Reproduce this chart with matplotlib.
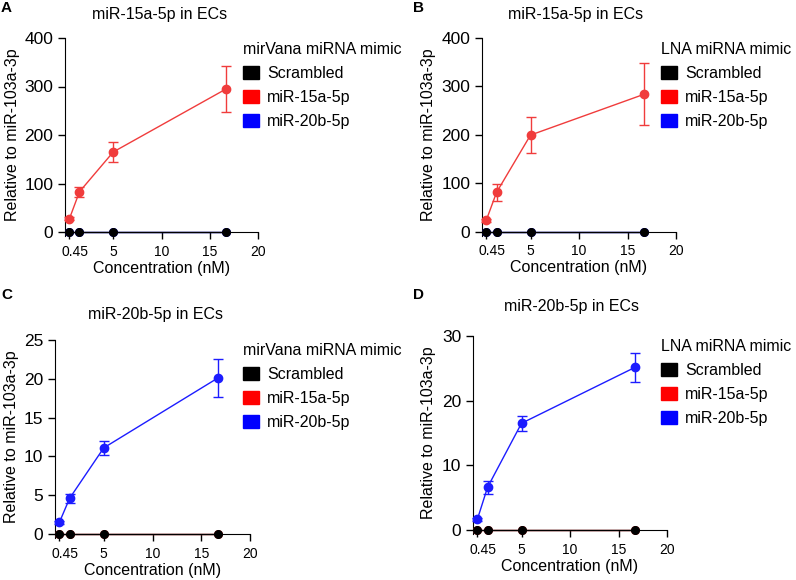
import matplotlib.pyplot as plt
from matplotlib.patches import Patch

plt.rcParams['font.family'] = ['Liberation Sans', 'DejaVu Sans']

conc = [0.45, 1.5, 5, 16.7]
series_names = ['Scrambled', 'miR-15a-5p', 'miR-20b-5p']
series_colors = ['#000000', '#f03c3c', '#1c1cff']
legend_colors = ['#000000', '#ff0000', '#0000ff']

# panel A: mirVana mimic, miR-15a-5p measured
a_scr = [0, 0, 0, 0]
a_15a = [27, 83, 165, 295]
a_15a_err = [3, 10, 21, 48]
a_20b = [0, 0, 0, 0]

# panel B: LNA mimic, miR-15a-5p measured
b_scr = [0, 0, 0, 0]
b_15a = [24, 81, 199, 283]
b_15a_err = [3, 17, 37, 64]
b_20b = [0, 0, 0, 0]

# panel C: mirVana mimic, miR-20b-5p measured
c_scr = [0, 0, 0, 0]
c_15a = [0, 0, 0, 0]
c_20b = [1.5, 4.6, 11.1, 20.1]
c_20b_err = [0.2, 0.6, 0.9, 2.4]

# panel D: LNA mimic, miR-20b-5p measured
d_scr = [0, 0, 0, 0]
d_15a = [0, 0, 0, 0]
d_20b = [1.65, 6.6, 16.5, 25.15]
d_20b_err = [0.2, 1.0, 1.2, 2.25]

W, H = 796, 580
fig = plt.figure(figsize=(W / 100, H / 100), dpi=100)


def px_axes(l, r, t, b):
    return fig.add_axes([l / W, 1 - b / H, (r - l) / W, (b - t) / H])


panels = [
    dict(letter='A', lp=(1, 8), title='miR-15a-5p in ECs', box=(65, 258, 38, 232),
         data=[a_scr, a_15a, a_20b], err=[None, a_15a_err, None], target=1,
         ymax=400, yticks=[0, 100, 200, 300, 400], ltitle='mirVana miRNA mimic',
         leg=(243, 42), tpos=(160, 14), ylab_x=13),
    dict(letter='B', lp=(413, 8), title='miR-15a-5p in ECs', box=(482, 676, 37.5, 231.7),
         data=[b_scr, b_15a, b_20b], err=[None, b_15a_err, None], target=1,
         ymax=400, yticks=[0, 100, 200, 300, 400], ltitle='LNA miRNA mimic',
         leg=(661, 42), tpos=(576, 14), ylab_x=429),
    dict(letter='C', lp=(1, 295), title='miR-20b-5p in ECs', box=(55, 250, 340, 534),
         data=[c_scr, c_15a, c_20b], err=[None, None, c_20b_err], target=2,
         ymax=25, yticks=[0, 5, 10, 15, 20, 25], ltitle='mirVana miRNA mimic',
         leg=(243, 343), tpos=(155, 315), ylab_x=12),
    dict(letter='D', lp=(413, 295), title='miR-20b-5p in ECs', box=(473, 667, 336, 530),
         data=[d_scr, d_15a, d_20b], err=[None, None, d_20b_err], target=2,
         ymax=30, yticks=[0, 10, 20, 30], ltitle='LNA miRNA mimic',
         leg=(661, 339), tpos=(572, 306), ylab_x=429),
]

for p in panels:
    l, r, t, b = p['box']
    ax = px_axes(l, r, t, b)
    # non-target series and scrambled sit on the zero line
    for i in [2, 1, 0]:
        if i == p['target']:
            continue
        ax.plot(conc, p['data'][i], color=series_colors[i], marker='o', ms=5.5,
                lw=1, clip_on=False, zorder=3 + (i == 0))
    i = p['target']
    ax.errorbar(conc, p['data'][i], yerr=p['err'][i], color=series_colors[i],
                marker='o', ms=6, lw=1, elinewidth=1, capsize=3.5, capthick=1,
                clip_on=False, zorder=5)
    ax.set_xlim(0, 20)
    ax.set_ylim(0, p['ymax'])
    ax.set_xticks([0.45, 5, 10, 15, 20])
    ax.set_xticklabels(['', '5', '10', '15', '20'], fontsize=10)
    # first label sits a bit right of its tick, as in the original
    ax.set_xticks([1.05], minor=True)
    ax.set_xticklabels(['0.45'], minor=True, fontsize=10)
    ax.tick_params(axis='x', which='minor', length=0, pad=9)
    ax.set_yticks(p['yticks'])
    ax.tick_params(axis='y', labelsize=12.5, length=5, width=1)
    ax.tick_params(axis='x', which='major', length=5, width=1, pad=4)
    ax.spines['top'].set_visible(False)
    ax.spines['right'].set_visible(False)
    ax.spines['left'].set_bounds(-p['ymax'] * 0.02, p['ymax'])
    ax.spines['bottom'].set_zorder(2)

    fig.text(p['lp'][0] / W, 1 - p['lp'][1] / H, p['letter'], fontsize=11,
             fontweight='bold', va='center', ha='left')
    fig.text(p['tpos'][0] / W, 1 - p['tpos'][1] / H, p['title'], fontsize=11.5,
             ha='center', va='center')
    fig.text(p['ylab_x'] / W, 1 - (t + b) / 2 / H, 'Relative to miR-103a-3p',
             fontsize=11.5, rotation=90, ha='center', va='center')
    fig.text((l + r) / 2 / W, 1 - (b + 36) / H, 'Concentration (nM)', fontsize=11.5,
             ha='center', va='center')

    handles = [Patch(facecolor=c, edgecolor=c) for c in legend_colors]
    ax.legend(handles, series_names, title=p['ltitle'], loc='upper left',
              bbox_to_anchor=(p['leg'][0] / W, 1 - p['leg'][1] / H),
              bbox_transform=fig.transFigure, frameon=False, borderpad=0,
              borderaxespad=0, fontsize=11.5, title_fontsize=11.5,
              handlelength=1.0, handleheight=0.9, handletextpad=0.5,
              labelspacing=0.55, alignment='left')

fig.savefig('out.png', dpi=100)
